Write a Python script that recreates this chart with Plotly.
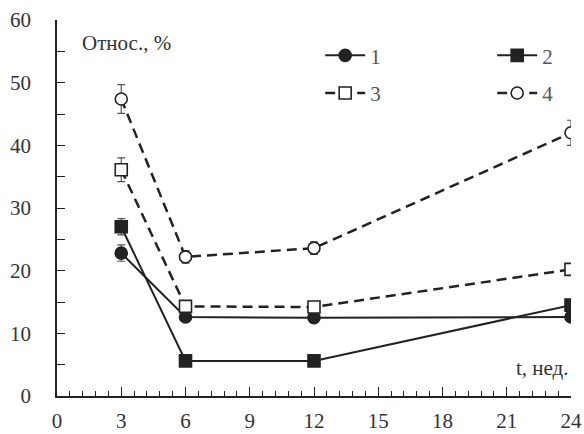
import plotly.graph_objects as go

t = [3, 6, 12, 24]
s1 = [22.8, 12.6, 12.5, 12.6]
s2 = [27.0, 5.6, 5.6, 14.5]
s3 = [36.1, 14.3, 14.2, 20.2]
s4 = [47.4, 22.2, 23.6, 42.0]
e1 = [1.3, 0.5, 0.4, 0.4]
e2 = [1.3, 0.5, 0.4, 0.5]
e3 = [1.9, 0.8, 0.6, 0.6]
e4 = [2.3, 1.0, 1.0, 2.0]
labels = ["1", "2", "3", "4"]

INK = "#222222"
FONT = "Liberation Serif, Times New Roman, serif"
FS = 21

fig = go.Figure()

specs = [
    (s1, e1, "circle", INK, "solid", 2, "legend"),
    (s2, e2, "square", INK, "solid", 2, "legend"),
    (s3, e3, "square", "white", "10px,6px", 2.5, "legend2"),
    (s4, e4, "circle", "white", "10px,6px", 2.5, "legend2"),
]
for (ys, es, sym, fill, dash, w, lg), name in zip(specs, labels):
    fig.add_trace(go.Scatter(
        x=t, y=ys, name=name, mode="lines+markers",
        line=dict(color=INK, width=w, dash=dash),
        marker=dict(symbol=sym, size=12, color=fill,
                    line=dict(color=INK, width=1.6)),
        error_y=dict(type="data", array=es, visible=True, color="#555555",
                     thickness=1.2, width=4),
        legend=lg,
    ))

fig.update_layout(
    width=584, height=434,
    margin=dict(l=57, r=13, t=20, b=38, autoexpand=False),
    paper_bgcolor="white", plot_bgcolor="white",
    font=dict(family=FONT, size=FS, color="#333333"),
    xaxis=dict(range=[0, 24], tickmode="linear", tick0=0, dtick=3,
               ticks="inside", ticklen=9, tickwidth=1.2, tickcolor=INK,
               showline=True, linecolor=INK, linewidth=1.5,
               showgrid=False, zeroline=False, ticklabelstandoff=5,
               minor=dict(dtick=0.6, tick0=0, ticks="inside", ticklen=5,
                          tickwidth=1, tickcolor=INK, showgrid=False),
               tickfont=dict(family=FONT, size=FS, color="#333333")),
    yaxis=dict(range=[0, 60], tickmode="linear", tick0=0, dtick=10,
               ticks="inside", ticklen=8, tickwidth=1.2, tickcolor=INK,
               showline=True, linecolor=INK, linewidth=1.5,
               showgrid=False, zeroline=False, ticklabelstandoff=20,
               minor=dict(dtick=5, ticks="inside", ticklen=8,
                          tickwidth=1.2, tickcolor=INK, showgrid=False),
               tickfont=dict(family=FONT, size=FS, color="#333333")),
    legend=dict(orientation="h", x=0.512, y=0.905, xanchor="left", yanchor="middle",
                entrywidth=117, entrywidthmode="pixels", itemwidth=40,
                bgcolor="rgba(0,0,0,0)", font=dict(family=FONT, size=FS, color="#555555")),
    legend2=dict(orientation="h", x=0.512, y=0.805, xanchor="left", yanchor="middle",
                 entrywidth=117, entrywidthmode="pixels", itemwidth=40,
                 bgcolor="rgba(0,0,0,0)", font=dict(family=FONT, size=FS, color="#555555")),
    showlegend=True,
    annotations=[
        dict(text="Относ., %", xref="paper", yref="paper", x=0.045, y=0.94,
             xanchor="left", yanchor="middle", showarrow=False,
             font=dict(family=FONT, size=FS, color="#333333")),
        dict(text="t, нед.", xref="paper", yref="paper", x=1.0, y=0.075,
             xanchor="right", yanchor="middle", showarrow=False,
             font=dict(family=FONT, size=FS, color="#333333")),
    ],
)

fig.write_html("out.html", config={"displayModeBar": False},
               post_script="document.body.style.margin='0';document.body.style.overflow='hidden';")
